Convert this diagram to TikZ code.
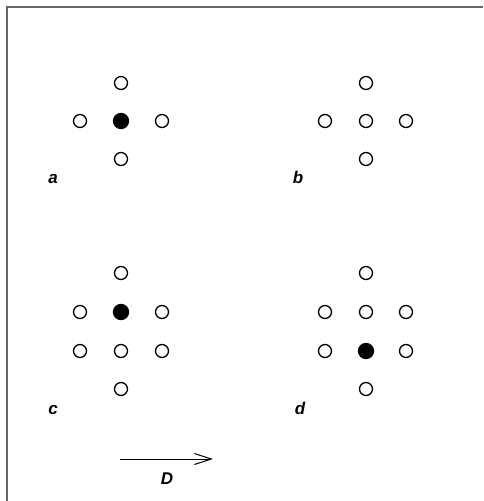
\documentclass[tikz,border=0pt]{standalone}
\usepackage{fontspec}
\setmainfont{Liberation Sans}
\usetikzlibrary{arrows.meta}
\tikzset{
  site/.style={circle, draw=black, line width=1.3pt, fill=white, minimum size=13pt, inner sep=0pt},
  occ/.style={site, fill=black, minimum size=15pt},
  lbl/.style={font=\fontsize{17}{17}\selectfont\bfseries\itshape, inner sep=0pt, anchor=base}
}
\begin{document}
\begin{tikzpicture}[x=1pt,y=-1pt]
  \useasboundingbox (0,0) rectangle (483,501);
  % frame
  \draw[gray!80!black, line width=2pt] (6.5,501) -- (6.5,6.5) -- (483,6.5);
  % a
  \node[site] (a1) at (121,83) {};
  \node[site] (a2) at (80,121) {};
  \node[occ]  (a3) at (121,121) {};
  \node[site] (a4) at (162,121) {};
  \node[site] (a5) at (121,159) {};
  \node[lbl] (la) at (53,183) {a};
  % b
  \node[site] (b1) at (366,83) {};
  \node[site] (b2) at (325,121) {};
  \node[site] (b3) at (366,121) {};
  \node[site] (b4) at (406,121) {};
  \node[site] (b5) at (366,159) {};
  \node[lbl] (lb) at (298,183) {b};
  % c
  \node[site] (c1) at (121,273) {};
  \node[site] (c2) at (80,312) {};
  \node[occ]  (c3) at (121,312) {};
  \node[site] (c4) at (162,312) {};
  \node[site] (c5) at (80,351) {};
  \node[site] (c6) at (121,351) {};
  \node[site] (c7) at (162,351) {};
  \node[site] (c8) at (121,389) {};
  \node[lbl] (lc) at (53,414) {c};
  % d
  \node[site] (d1) at (366,273) {};
  \node[site] (d2) at (325,312) {};
  \node[site] (d3) at (366,312) {};
  \node[site] (d4) at (406,312) {};
  \node[site] (d5) at (325,351) {};
  \node[occ]  (d6) at (366,351) {};
  \node[site] (d7) at (406,351) {};
  \node[site] (d8) at (366,389) {};
  \node[lbl] (ld) at (300,414) {d};
  % drift
  \coordinate (arrS) at (120,459);
  \coordinate (arrE) at (213,459);
  \draw[line width=1pt, -{Straight Barb[length=17pt,width=11pt,line width=1pt]}] (arrS) -- (arrE);
  \node[lbl] (lD) at (167,484) {D};
\end{tikzpicture}
\end{document}
